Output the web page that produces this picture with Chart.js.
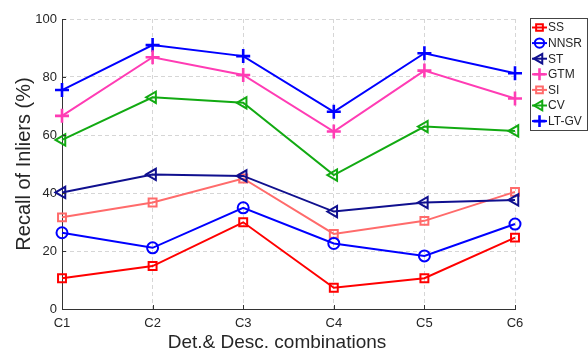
<!DOCTYPE html>
<html>
<head>
<meta charset="utf-8">
<script src="https://cdn.jsdelivr.net/npm/chart.js@4/dist/chart.umd.min.js"></script>
<style>
  html, body { margin: 0; padding: 0; background: #ffffff; }
  #wrap { width: 588px; height: 354px; position: relative; }
</style>
</head>
<body>
<div id="wrap"><canvas id="chart" width="588" height="354"></canvas></div>
<script>
// Detector & descriptor combinations
const categories = ['C1', 'C2', 'C3', 'C4', 'C5', 'C6'];
const yTicks = [0, 20, 40, 60, 80, 100];

// Recall of inliers (%) per method
const ss   = [10.6, 14.8, 29.9, 7.3, 10.6, 24.6];
const nnsr = [26.3, 21.1, 34.9, 22.6, 18.3, 29.3];
const st   = [40.2, 46.4, 45.9, 33.6, 36.7, 37.6];
const gtm  = [66.6, 86.8, 80.7, 61.2, 82.2, 72.6];
const si   = [31.6, 36.7, 45.0, 25.9, 30.4, 40.4];
const cv   = [58.3, 73.0, 71.1, 46.2, 62.9, 61.4];
const ltgv = [75.5, 91.0, 87.2, 68.0, 88.2, 81.3];

const xTitle = 'Det.& Desc. combinations';
const yTitle = 'Recall of Inliers (%)';

const FONT = "'Liberation Sans', Arial, Helvetica, sans-serif";
const TEXT = '#262626';

function series(label, data, color, style, radius, rotation) {
  return {
    label, data,
    borderColor: color,
    backgroundColor: 'rgba(0,0,0,0)',
    borderWidth: 2,
    pointStyle: style,
    pointRadius: radius,
    pointHoverRadius: radius,
    pointRotation: rotation || 0,
    pointBorderColor: color,
    pointBackgroundColor: 'rgba(0,0,0,0)',
    pointBorderWidth: style === 'cross' ? 2.6 : 2,
    tension: 0,
    fill: false,
    clip: false
  };
}

const datasets = [
  series('SS',    ss,   '#ff0000', 'rect', 5.6),
  series('NNSR',  nnsr, '#0000ff', 'circle', 5.5),
  series('ST',    st,   '#10108f', 'triangle', 6.5, -90),
  series('GTM',   gtm,  '#ff3cb4', 'cross', 7),
  series('SI',    si,   '#ff6b6b', 'rect', 5.6),
  series('CV',    cv,   '#12aa12', 'triangle', 6.5, -90),
  series('LT-GV', ltgv, '#0000ff', 'cross', 7)
];

// Inward tick marks, x-axis caption and a boxed legend drawn on the canvas
const axisExtras = {
  id: 'axisExtras',
  afterDraw(chart) {
    const ctx = chart.ctx;
    const xs = chart.scales.x, ys = chart.scales.y;
    const area = chart.chartArea;
    ctx.save();
    ctx.strokeStyle = '#333333';
    ctx.lineWidth = 1;
    ctx.beginPath();
    yTicks.forEach(v => {
      const y = Math.round(ys.getPixelForValue(v)) + 0.5;
      ctx.moveTo(area.left, y);
      ctx.lineTo(area.left + 4, y);
    });
    categories.forEach((c, i) => {
      const x = Math.round(xs.getPixelForValue(i)) + 0.5;
      ctx.moveTo(x, area.bottom);
      ctx.lineTo(x, area.bottom - 4);
    });
    ctx.stroke();

    // x-axis caption
    ctx.fillStyle = TEXT;
    ctx.font = '19px ' + FONT;
    ctx.textAlign = 'center';
    ctx.textBaseline = 'middle';
    ctx.fillText(xTitle, 277, 343);

    // legend
    const bx = 530.5, by = 18.5, bw = 57, bh = 112;
    ctx.fillStyle = '#ffffff';
    ctx.fillRect(bx, by, bw, bh);
    ctx.strokeStyle = '#444444';
    ctx.lineWidth = 1;
    ctx.strokeRect(bx, by, bw, bh);
    ctx.font = '12px ' + FONT;
    ctx.textBaseline = 'middle';
    ctx.textAlign = 'left';
    chart.data.datasets.forEach((ds, i) => {
      const y = 27.5 + i * 15.6;
      ctx.strokeStyle = ds.borderColor;
      ctx.lineWidth = 2;
      ctx.beginPath();
      ctx.moveTo(532, y);
      ctx.lineTo(547, y);
      ctx.stroke();
      ctx.fillStyle = 'rgba(0,0,0,0)';
      ctx.strokeStyle = ds.borderColor;
      ctx.lineWidth = ds.pointBorderWidth;
      Chart.helpers.drawPoint(ctx, {
        pointStyle: ds.pointStyle,
        rotation: ds.pointRotation,
        radius: ds.pointRadius * 0.85,
        borderWidth: ds.pointBorderWidth
      }, 539.5, y);
      ctx.fillStyle = TEXT;
      ctx.fillText(ds.label, 548, y + 0.5);
    });
    ctx.restore();
  }
};

new Chart(document.getElementById('chart'), {
  type: 'line',
  data: { labels: categories, datasets },
  options: {
    responsive: false,
    animation: false,
    events: [],
    layout: { padding: { top: 19, right: 73, left: 0, bottom: 0 } },
    plugins: { legend: { display: false }, tooltip: { enabled: false } },
    scales: {
      x: {
        offset: false,
        afterFit(scale) { scale.height = 45; },
        grid: { color: '#d6d6d6', lineWidth: 1, drawTicks: false },
        border: { display: true, color: '#333333', width: 1, dash: [4, 3] },
        ticks: { color: TEXT, font: { family: FONT, size: 13 }, padding: 7, maxRotation: 0, autoSkip: false }
      },
      y: {
        min: 0, max: 100,
        afterFit(scale) { scale.width = 62; },
        afterBuildTicks(scale) { scale.ticks = yTicks.map(v => ({ value: v })); },
        grid: { color: '#d6d6d6', lineWidth: 1, drawTicks: false },
        border: { display: true, color: '#333333', width: 1, dash: [4, 3] },
        ticks: { color: TEXT, font: { family: FONT, size: 13 }, padding: 5 },
        title: { display: true, text: yTitle, color: TEXT,
                 font: { family: FONT, size: 20 }, padding: { top: 12, bottom: 0 } }
      }
    }
  },
  plugins: [axisExtras]
});
</script>
</body>
</html>
